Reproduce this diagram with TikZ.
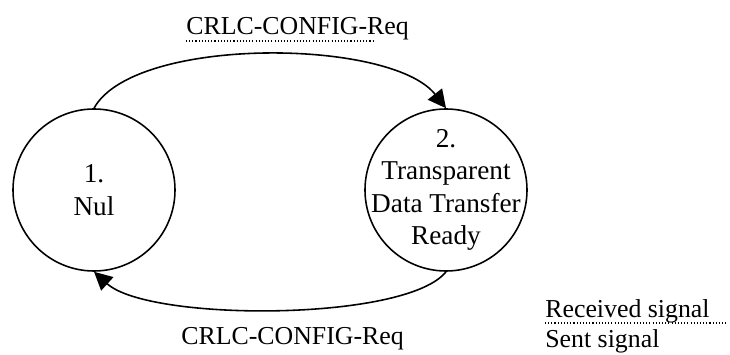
\documentclass[tikz,border=0pt]{standalone}
\usepackage{fontspec}
\setmainfont{Liberation Serif}
\usepackage{tikz}
\usetikzlibrary{positioning}
\usetikzlibrary{arrows.meta}
\tikzset{
	statenode/.style={draw, circle, line width=0.9pt, minimum size=3.24cm, inner sep=-0.5cm, align=center, font=\fontsize{15.5}{18.5}\selectfont},
	signal/.style={-{Triangle[length=3.6mm,width=3.6mm]}, line width=0.9pt},
	sigline/.style={line width=0.6pt, dash pattern=on 0.6pt off 1.2pt},
	sigtext/.style={inner sep=0pt, anchor=base west}
}

\begin{document}
\begin{tikzpicture}[font=\fontsize{14.7}{18}\selectfont]
				    		\useasboundingbox (0, 0) rectangle (14.6, 7.1);
				    		\node[statenode] (nul) at (1.88, 3.3) {1.\\Nul};
				    		\node[statenode] (ready) at (8.92, 3.3) {2.\\Transparent\\Data Transfer\\Ready};
				    		\draw[signal] (nul.north) .. controls +(0.8, 1.45) and +(-1.1, 1.4) .. (ready.north);
				    		\draw[signal] (ready.south) .. controls +(-0.8, -1.0) and +(1.1, -1.0) .. (nul.south);
				    		\node[sigtext] (cfgtop) at (3.72, 6.4) {CRLC-CONFIG-Req};
				    		\draw[sigline] ([yshift=-0.12cm]cfgtop.base west) -- ++(3.74, 0);
				    		\node[sigtext] (cfgbot) at (3.62, 0.2) {CRLC-CONFIG-Req};
				    		\node[sigtext] (rcv) at (10.9, 0.74) {Received signal};
				    		\draw[sigline] ([yshift=-0.1cm]rcv.base west) -- ++(3.66, 0);
				    		\node[sigtext] (sent) at (10.9, 0.14) {Sent signal};
				    	\end{tikzpicture}
\end{document}
